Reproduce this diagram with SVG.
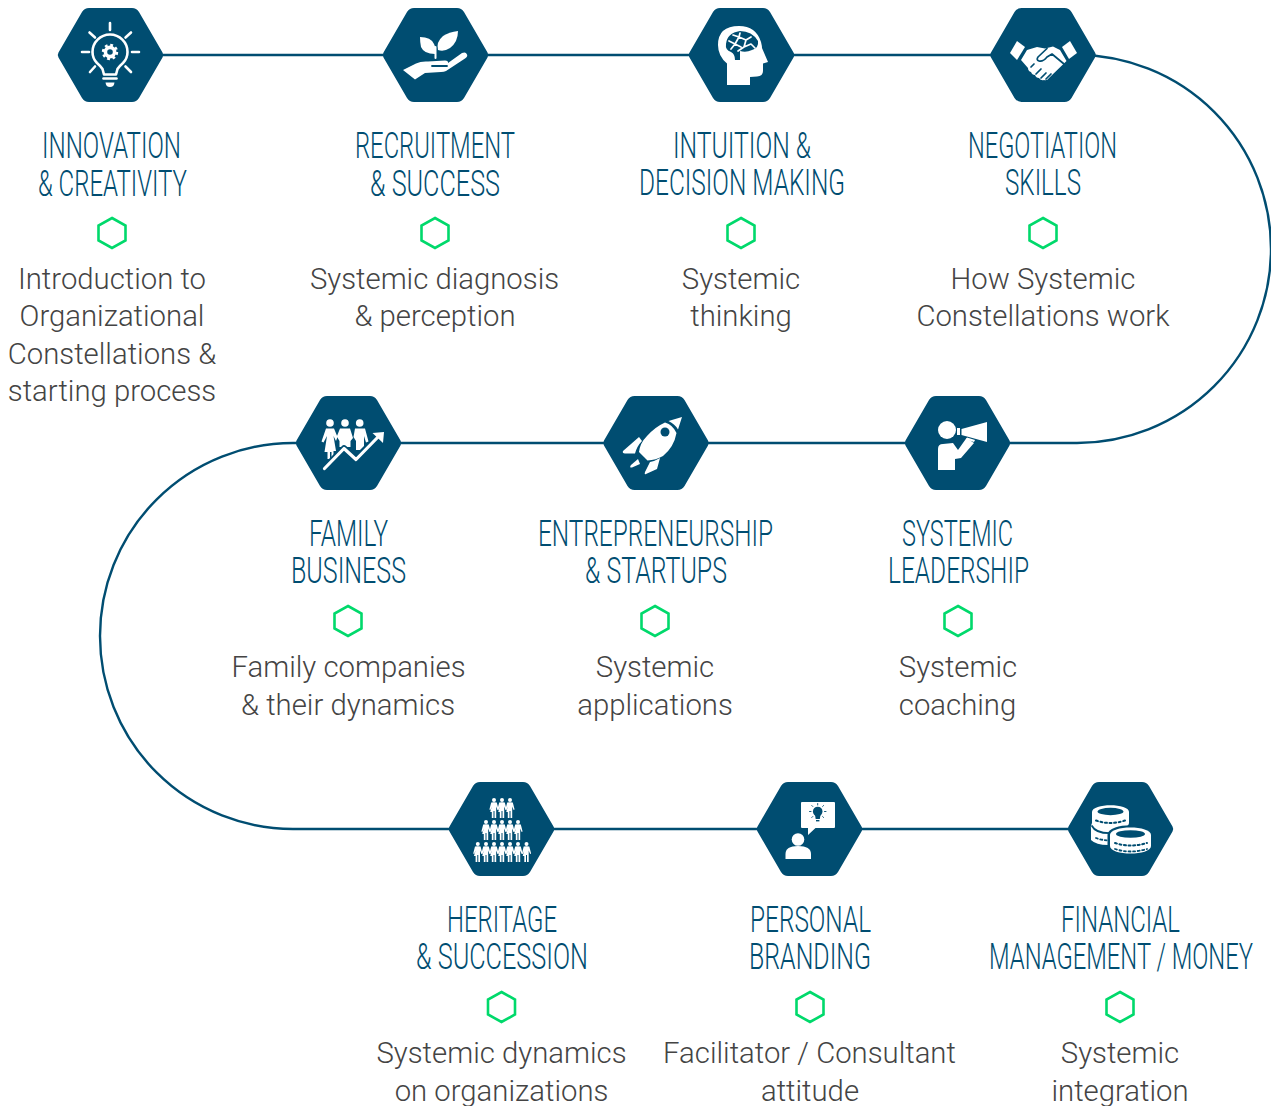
<svg xmlns="http://www.w3.org/2000/svg" xmlns:xlink="http://www.w3.org/1999/xlink" width="1271" height="1106" viewBox="0 0 1271 1106">
<style>
text{text-anchor:middle}
.t{font-family:Roboto,"Liberation Sans",sans-serif;font-size:36.5px;font-weight:350;fill:#004d71}
.b{font-family:Roboto,"Liberation Sans",sans-serif;font-size:29.3px;font-weight:300;fill:#444}
.hex{fill:#004d71}
.dot{fill:none;stroke:#00d96b;stroke-width:2.6}
.conn{fill:none;stroke:#004d71;stroke-width:2.4}
.w{fill:#fff}
.d{fill:#004d71}
.ws{fill:none;stroke:#fff;stroke-linecap:round;stroke-linejoin:round}
.ds{fill:none;stroke:#004d71;stroke-linecap:round;stroke-linejoin:round}
</style>
<defs>
<path id="hx" class="hex" d="M-52 -2.500L-28.500 -43Q-26 -47 -21.500 -47H21.500Q26 -47 28.500 -43L52 -2.500Q53.500 0 52 2.500L28.500 43Q26 47 21.500 47H-21.500Q-26 47 -28.500 43L-52 2.500Q-53.500 0 -52 -2.500Z"/>
<polygon id="gh" class="dot" points="0,-15 13.500,-7.500 13.500,7.500 0,15 -13.500,7.500 -13.500,-7.500"/>
<g id="p"><circle class="w" cx="0" cy="1.900" r="2"/><path class="w" d="M-2.800 4.600Q0 3.800 2.800 4.600L4.600 11.500L3.600 12L2.200 8.500V20H0.500V13H-0.500V20H-2.200V14H-3.800L-2.200 8.500L-3.600 12L-4.600 11.500Z"/></g>
</defs>

<g id="connectors">
<path class="conn" d="M160 55H1077A194 194 0 0 1 1077 443H293A193 193 0 0 0 293 829H1072"/>
</g>

<g id="node-innovation">
<use xlink:href="#hx" href="#hx" x="110.500" y="55"/>
<g class="ws" stroke-width="2.600">
<path d="M110 23V30M82 52H89M132 52H139M89.500 32.500L95 37.500M131 32.500L125.500 37.500M90 72L95 66.500M131 72L125.500 66.500"/>
<path d="M104 74.500L102.500 69Q101 66.500 97 63Q92.500 58.500 92.500 52A17.500 17.500 0 0 1 127.500 52Q127.500 58.500 123 63Q119 66.500 117.500 69L116 74.500Z"/>
<path d="M103.500 78.500H116.500"/>
<circle cx="110" cy="52" r="4.600" stroke-width="3.600"/>
<circle cx="110" cy="52" r="7" stroke-width="2.400" stroke-dasharray="2.800 2.700" stroke-linecap="butt"/>
</g>
<path class="w" d="M105.500 82.500H114.500Q114 87 110 87Q106 87 105.500 82.500Z"/>
<text class="t" x="111.500" y="158" textLength="139" lengthAdjust="spacingAndGlyphs">INNOVATION</text>
<text class="t" x="112.500" y="195.500" textLength="149" lengthAdjust="spacingAndGlyphs">&amp; CREATIVITY</text>
<use xlink:href="#gh" href="#gh" x="112" y="233"/>
<text class="b" x="112" y="289">Introduction to</text>
<text class="b" x="112" y="326">Organizational</text>
<text class="b" x="112" y="364">Constellations &amp;</text>
<text class="b" x="112" y="401">starting process</text>
</g>

<g id="node-recruitment">
<use xlink:href="#hx" href="#hx" x="435.500" y="55"/>
<path class="w" d="M420 37Q431 37 434 44Q437 50 435 54Q424 54 421 47Q420 42 420 37Z"/>
<path class="w" d="M458 31Q458 42 450 48Q444 52 438 50Q436 42 443 36Q449 32 458 31Z"/>
<path class="ws" stroke-width="2" d="M435.500 47V58"/>
<path class="w" d="M403 70L416 63.500Q421 61 428 61.500L445 60.500Q448.500 60.500 448 63L462 53Q466 51.500 467 54.500Q468 56.500 465 58.500L446 71Q444 72 441 72L425 73L415 79.500Z"/>
<path class="ds" stroke-width="1.800" d="M432 66H447"/>
<text class="t" x="435" y="158" textLength="160" lengthAdjust="spacingAndGlyphs">RECRUITMENT</text>
<text class="t" x="435" y="195.500" textLength="130" lengthAdjust="spacingAndGlyphs">&amp; SUCCESS</text>
<use xlink:href="#gh" href="#gh" x="435" y="233"/>
<text class="b" x="434.500" y="289">Systemic diagnosis</text>
<text class="b" x="435" y="326">&amp; perception</text>
</g>

<g id="node-intuition">
<use xlink:href="#hx" href="#hx" x="741.500" y="55"/>
<path class="w" d="M727 85V63.500Q718 56 718 45Q718 26 739 26Q756 26 761 42Q762 46 762 48L768 62L763 63.500V71Q763 76 757 76.500L750 77V85Z"/>
<path class="d" d="M726 44Q727 33 740 31Q752 31 758 41Q759 48 752 50Q746 53 740 51V60H735Q735 54 731 52Q725 50 726 44Z"/>
<path class="ws" stroke-width="1.700" d="M729 41L735 44L731 49M735 44L739 37L733 35M739 37L746 40L744 47L738 51M746 40L751 37M744 47L751 44L755 48M735 44L741 47M740 33L739 37"/>
<text class="t" x="742" y="157.500" textLength="138" lengthAdjust="spacingAndGlyphs">INTUITION &amp;</text>
<text class="t" x="742" y="195" textLength="206" lengthAdjust="spacingAndGlyphs">DECISION MAKING</text>
<use xlink:href="#gh" href="#gh" x="741" y="233"/>
<text class="b" x="741" y="289">Systemic</text>
<text class="b" x="741" y="326">thinking</text>
</g>

<g id="node-negotiation">
<use xlink:href="#hx" href="#hx" x="1043" y="55"/>
<path class="w" d="M1017 41L1025 47L1017 60L1010 53Z"/>
<path class="w" d="M1070 41L1077 53L1069 59L1062 47Z"/>
<path class="w" d="M1027 50L1037 47L1045 48.500L1053 46.500L1060 50L1066.500 61L1049 78Q1047 81 1044 80Q1041 81 1039 78Q1036 78 1035 75Q1032 75 1031 72Q1028 71 1028 68L1021 60Z"/>
<path class="ds" stroke-width="1.700" d="M1047 48.500L1038 57Q1036 60 1039 61Q1043 62 1047 57L1052 54L1064 64M1031 67L1034 64M1036 74L1041 69M1041 78L1046 73M1046 79L1051 74"/>
<text class="t" x="1042.500" y="157.500" textLength="149" lengthAdjust="spacingAndGlyphs">NEGOTIATION</text>
<text class="t" x="1043" y="195" textLength="76" lengthAdjust="spacingAndGlyphs">SKILLS</text>
<use xlink:href="#gh" href="#gh" x="1043" y="233"/>
<text class="b" x="1043" y="289">How Systemic</text>
<text class="b" x="1043" y="326">Constellations work</text>
</g>

<g id="node-family">
<use xlink:href="#hx" href="#hx" x="348.500" y="443"/>
<circle class="w" cx="330" cy="423" r="3.800"/><circle class="w" cx="345" cy="423" r="3.800"/><circle class="w" cx="359.700" cy="423" r="3.800"/>
<path class="w" d="M326 428.500H334L337.500 437L336 441L333.500 436L336 451H333.500V458H331.500V452H330V459H327.500V452H324.500L327 436L323.500 442.500L321.500 441.500Z"/>
<path class="w" d="M340 428.500H350L353 438L350.500 441V447H339.500V441L336.800 436.500Z"/>
<path class="w" d="M355 428.500H365L368.500 441.500L366 442.500L364 436V446L360 450H356V441L353.500 437Z"/>
<path class="ds" stroke-width="6.500" d="M324 468.500L344 448.500L356 459.500L379 436" stroke-linecap="butt"/>
<path class="ws" stroke-width="3.200" d="M324.500 468.500L344 448.500L356 459.500L379 436"/>
<path class="w" d="M372.500 433L384 432L383 443Z"/>
<text class="t" x="348.500" y="546" textLength="79" lengthAdjust="spacingAndGlyphs">FAMILY</text>
<text class="t" x="348.500" y="583" textLength="115" lengthAdjust="spacingAndGlyphs">BUSINESS</text>
<use xlink:href="#gh" href="#gh" x="348" y="621"/>
<text class="b" x="348.500" y="677">Family companies</text>
<text class="b" x="348" y="715">&amp; their dynamics</text>
</g>

<g id="node-entrepreneurship">
<use xlink:href="#hx" href="#hx" x="656" y="443"/>
<path class="w" d="M668.500 421L682 417L678 429.500Q675 424 668.500 421Z"/>
<path class="w" d="M665 422.500Q673 425 676.500 433Q674 447 663 456Q656 460 647.500 460.500L639 452Q640 443 647 436Q655 427 665 422.500Z"/>
<circle class="d" cx="665" cy="432" r="4.500"/>
<path class="w" d="M639 437L623 451Q622 453 625 453.500L635 453.500Q637 446 642 441Z"/>
<path class="w" d="M660 458L657 469L646 474Q644 475 645 472L650 462Q655 461 660 458Z"/>
<path class="w" d="M638 459L631 465Q629 468 632 467.500L640 464Z"/>
<text class="t" x="655.500" y="546" textLength="235" lengthAdjust="spacingAndGlyphs">ENTREPRENEURSHIP</text>
<text class="t" x="656" y="583" textLength="142" lengthAdjust="spacingAndGlyphs">&amp; STARTUPS</text>
<use xlink:href="#gh" href="#gh" x="655" y="621"/>
<text class="b" x="655" y="677">Systemic</text>
<text class="b" x="655" y="715">applications</text>
</g>

<g id="node-leadership">
<use xlink:href="#hx" href="#hx" x="957.500" y="443"/>
<circle class="w" cx="947" cy="430" r="9"/>
<path class="w" d="M938 470V449Q938 444 943 444L953 443L958 450L966.500 438L974 443L961 458L955 459V470Z"/>
<path class="w" d="M961.500 429L987 422V442L961.500 435Z"/>
<rect class="w" x="957" y="428" width="3" height="7"/>
<path class="w" d="M967 437.500L975 440L974 442L966 439.500Z"/>
<text class="t" x="957.500" y="546" textLength="111" lengthAdjust="spacingAndGlyphs">SYSTEMIC</text>
<text class="t" x="958.500" y="583" textLength="141" lengthAdjust="spacingAndGlyphs">LEADERSHIP</text>
<use xlink:href="#gh" href="#gh" x="958" y="621"/>
<text class="b" x="958" y="677">Systemic</text>
<text class="b" x="957.500" y="715">coaching</text>
</g>

<g id="node-heritage">
<use xlink:href="#hx" href="#hx" x="501.500" y="829"/>
<use href="#p" xlink:href="#p" x="494" y="798"/><use href="#p" xlink:href="#p" x="502" y="798"/><use href="#p" xlink:href="#p" x="510" y="798"/>
<use href="#p" xlink:href="#p" x="486" y="820"/><use href="#p" xlink:href="#p" x="494" y="820"/><use href="#p" xlink:href="#p" x="502" y="820"/><use href="#p" xlink:href="#p" x="510" y="820"/><use href="#p" xlink:href="#p" x="518" y="820"/>
<use href="#p" xlink:href="#p" x="477.800" y="842"/><use href="#p" xlink:href="#p" x="486" y="842"/><use href="#p" xlink:href="#p" x="494" y="842"/><use href="#p" xlink:href="#p" x="502" y="842"/><use href="#p" xlink:href="#p" x="510" y="842"/><use href="#p" xlink:href="#p" x="518" y="842"/><use href="#p" xlink:href="#p" x="526.500" y="842"/>
<text class="t" x="502" y="932" textLength="110" lengthAdjust="spacingAndGlyphs">HERITAGE</text>
<text class="t" x="502" y="969" textLength="172" lengthAdjust="spacingAndGlyphs">&amp; SUCCESSION</text>
<use xlink:href="#gh" href="#gh" x="501.500" y="1007"/>
<text class="b" x="501.500" y="1063">Systemic dynamics</text>
<text class="b" x="501.500" y="1101">on organizations</text>
</g>

<g id="node-branding">
<use xlink:href="#hx" href="#hx" x="809.500" y="829"/>
<path class="w" d="M802 802H834Q835 802 835 803V827Q835 828 834 828H815.500L808 835V828H802Q801 828 801 827V803Q801 802 802 802Z"/>
<circle class="d" cx="817.700" cy="811.500" r="4.800"/>
<path class="d" d="M815 815H820.500L819.800 819H815.700Z"/>
<rect class="d" x="816" y="820" width="3.400" height="1.400"/>
<path class="ds" stroke-width="0.900" d="M817.700 803.500V805M809.500 811.500H811M824.500 811.500H826M811.800 805.500L812.800 806.500M823.600 805.500L822.600 806.500M811.800 817.500L812.800 816.500M823.600 817.500L822.600 816.500"/>
<circle class="w" cx="798" cy="839.500" r="6.300"/>
<path class="w" d="M785.500 859V854Q785.500 846 798 846Q811 846 811 854V859Z"/>
<text class="t" x="810.500" y="932" textLength="121" lengthAdjust="spacingAndGlyphs">PERSONAL</text>
<text class="t" x="810" y="969" textLength="122" lengthAdjust="spacingAndGlyphs">BRANDING</text>
<use xlink:href="#gh" href="#gh" x="810" y="1007"/>
<text class="b" x="809.500" y="1063">Facilitator / Consultant</text>
<text class="b" x="810" y="1101">attitude</text>
</g>

<g id="node-financial">
<use xlink:href="#hx" href="#hx" x="1120.500" y="829"/>
<path class="w" d="M1092 823Q1090 826 1091 830V840Q1096 845 1108 845Q1118 845 1122 843L1122 825Z"/>
<path class="ds" stroke-width="1.800" stroke-dasharray="2 2.600" stroke-linecap="butt" d="M1096 838Q1102 840.500 1112 840.500"/>
<path class="ds" stroke-width="1.800" d="M1092 826Q1096 834 1113 833"/>
<path class="w" d="M1092 812C1092 803 1129 803 1129 812V823C1129 832 1092 832 1092 823Z"/>
<ellipse class="d" cx="1110.500" cy="811.500" rx="13" ry="3.700"/>
<path class="ds" stroke-width="2" stroke-dasharray="2 2.600" stroke-linecap="butt" d="M1096 820.500Q1110 825.500 1125 820.500"/>
<path class="ds" stroke-width="3" d="M1109 835C1109 824 1152 824 1152 835V846C1152 857 1109 857 1109 846Z"/>
<path class="w" d="M1110 835C1110 825 1151 825 1151 835V846C1151 856 1110 856 1110 846Z"/>
<ellipse class="d" cx="1130.500" cy="834" rx="14.500" ry="3.800"/>
<path class="ds" stroke-width="2" stroke-dasharray="2 2.600" stroke-linecap="butt" d="M1115 843Q1130 848 1147 843"/>
<path class="ds" stroke-width="1.800" stroke-dasharray="2 2.600" stroke-linecap="butt" d="M1115 849Q1130 854 1147 849"/>
<text class="t" x="1120.500" y="932" textLength="119" lengthAdjust="spacingAndGlyphs">FINANCIAL</text>
<text class="t" x="1121" y="969" textLength="264" lengthAdjust="spacingAndGlyphs">MANAGEMENT / MONEY</text>
<use xlink:href="#gh" href="#gh" x="1120" y="1007"/>
<text class="b" x="1120" y="1063">Systemic</text>
<text class="b" x="1120" y="1101">integration</text>
</g>
</svg>
